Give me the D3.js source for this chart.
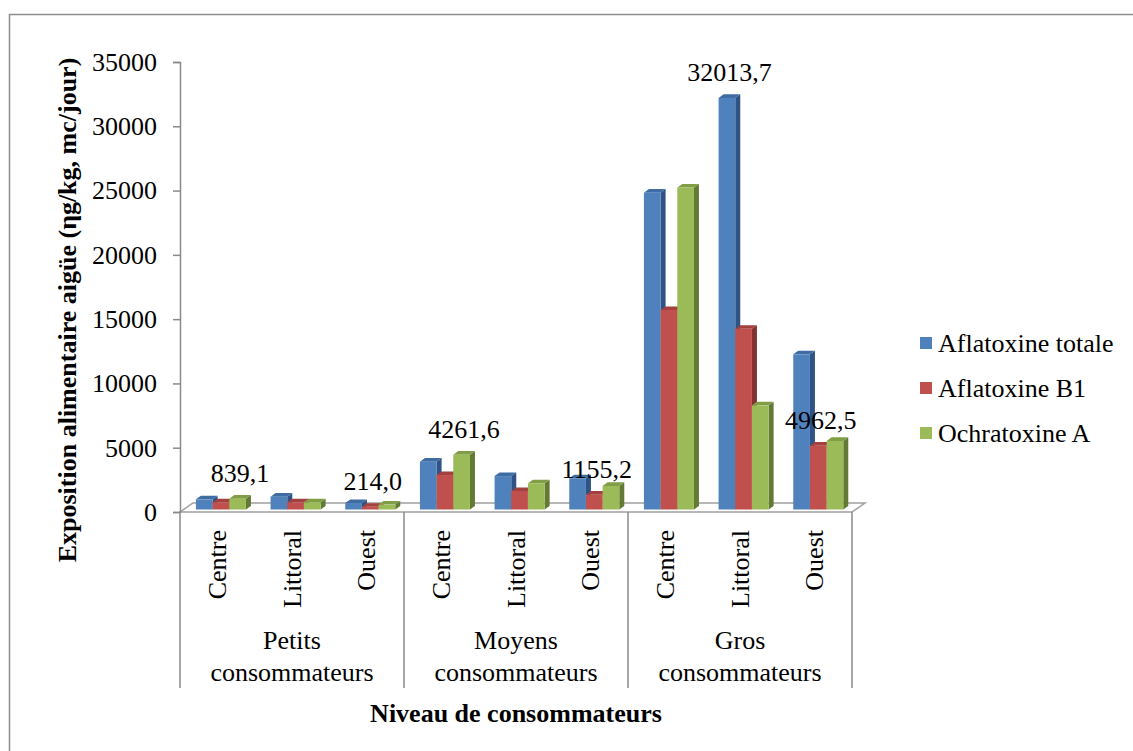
<!DOCTYPE html>
<html>
<head>
<meta charset="utf-8">
<script src="https://cdn.jsdelivr.net/npm/d3@7"></script>
<style>
  html, body { margin: 0; padding: 0; background: #ffffff; }
  svg { display: block; }
  text { font-family: "Liberation Serif", "Times New Roman", serif; fill: #000; }
</style>
</head>
<body>
<svg id="chart" width="1133" height="751"></svg>
<script>
// Consumer levels (outer categories) and regions (inner categories)
const groupLabels = [["Petits", "consommateurs"], ["Moyens", "consommateurs"], ["Gros", "consommateurs"]];
const regions = ["Centre", "Littoral", "Ouest"];
const seriesNames = ["Aflatoxine totale", "Aflatoxine B1", "Ochratoxine A"];

// Acute dietary exposure, one value per group × region
const aflatoxineTotale = [790, 1000, 500, 3720, 2600, 2430, 24640, 32013.7, 12070];
const aflatoxineB1     = [560, 560, 214.0, 2680, 1440, 1155.2, 15515, 14060, 4962.5];
const ochratoxineA     = [839.1, 560, 380, 4261.6, 2040, 1830, 25045, 8100, 5330];

const yTicks = [0, 5000, 10000, 15000, 20000, 25000, 30000, 35000];

// Bars that carry a value label: [category index, series index]
const labelledBars = [[0, 2], [2, 1], [3, 2], [5, 1], [7, 0], [8, 1]];

const seriesValues = [aflatoxineTotale, aflatoxineB1, ochratoxineA];
const frontColors = ["#4F81BD", "#C0504D", "#9BBB59"];
const topColors   = ["#3F6CA3", "#A4403D", "#819E47"];
const sideColors  = ["#2E5384", "#83312F", "#637A34"];

const svg = d3.select("#chart");
const FONT = 26;

// outer frame
svg.append("rect")
  .attr("x", 9.5).attr("y", 14.5).attr("width", 1200).attr("height", 800)
  .attr("fill", "none").attr("stroke", "#8E8E8E").attr("stroke-width", 1.5);

const x0 = 180, x1 = 852, yTop = 62, yBase = 512;
const floorDx = 13, floorDy = -9;      // depth of the floor
const barShiftX = 3.6, barShiftY = -2.5; // bars sit slightly inside the floor
const barDx = 5, barDy = -3.6;          // depth of each bar

const categories = d3.range(groupLabels.length * regions.length);
const xCat = d3.scaleBand().domain(categories).range([x0, x1]).padding(0);
const xSeries = d3.scaleBand().domain(d3.range(seriesNames.length))
  .range([xCat.bandwidth() * 0.165, xCat.bandwidth() * 0.835]).padding(0);
const y = d3.scaleLinear().domain([0, 35000]).range([yBase, yTop]);

// floor
svg.append("polygon")
  .attr("points", [[x0, yBase], [x1, yBase], [x1 + floorDx, yBase + floorDy], [x0 + floorDx, yBase + floorDy]].map(p => p.join(",")).join(" "))
  .attr("fill", "#ffffff").attr("stroke", "#A0A0A0").attr("stroke-width", 1.5);

// value axis
const yAxis = d3.axisLeft(y).tickValues(yTicks).tickSize(7).tickPadding(16).tickFormat(d3.format("d"));
const gy = svg.append("g").attr("transform", `translate(${x0},0)`).call(yAxis);
gy.select(".domain").attr("stroke", "#8A8A8A").attr("stroke-width", 1.5);
gy.selectAll(".tick line").attr("stroke", "#8A8A8A").attr("stroke-width", 1.5);
gy.selectAll(".tick text").attr("font-size", FONT).attr("font-family", "Liberation Serif, Times New Roman, serif");

// bars
const bars = [];
categories.forEach(c => {
  seriesValues.forEach((vals, s) => {
    bars.push({ c, s, v: vals[c] });
  });
});
const w = xSeries.bandwidth();
function barGeom(d) {
  const left = xCat(d.c) + xSeries(d.s) + barShiftX;
  const top = y(d.v) + barShiftY;
  const base = y(0) + barShiftY;
  return { left, top, base };
}
const gBars = svg.append("g");
bars.forEach(d => {
  const { left, top, base } = barGeom(d);
  const g = gBars.append("g");
  g.append("polygon")
    .attr("points", [[left + w, top], [left + w + barDx, top + barDy], [left + w + barDx, base + barDy], [left + w, base]].map(p => p.join(",")).join(" "))
    .attr("fill", sideColors[d.s]);
  g.append("polygon")
    .attr("points", [[left, top], [left + barDx, top + barDy], [left + w + barDx, top + barDy], [left + w, top]].map(p => p.join(",")).join(" "))
    .attr("fill", topColors[d.s]);
  g.append("rect")
    .attr("x", left).attr("y", top).attr("width", w).attr("height", Math.max(0, base - top))
    .attr("fill", frontColors[d.s]);
});

// value labels
const fmt = v => d3.format(".1f")(v).replace(".", ",");
labelledBars.forEach(([c, s]) => {
  const d = { c, s, v: seriesValues[s][c] };
  const { left, top } = barGeom(d);
  svg.append("text")
    .attr("x", left + w / 2 + barDx / 2)
    .attr("y", top - 17)
    .attr("text-anchor", "middle")
    .attr("font-size", FONT)
    .text(fmt(d.v));
});

// category axis: region labels, group separators and group labels
const xAxisBottom = 688;
const groupWidth = (x1 - x0) / groupLabels.length;
d3.range(groupLabels.length + 1).forEach(i => {
  const gx = x0 + i * groupWidth;
  svg.append("line")
    .attr("x1", gx).attr("x2", gx).attr("y1", yBase).attr("y2", xAxisBottom)
    .attr("stroke", "#8A8A8A").attr("stroke-width", 1.5);
});
categories.forEach(c => {
  const cx = xCat(c) + xCat.bandwidth() / 2;
  svg.append("text")
    .attr("transform", `translate(${cx},530) rotate(-90)`)
    .attr("text-anchor", "end")
    .attr("dominant-baseline", "central")
    .attr("font-size", FONT)
    .text(regions[c % regions.length]);
});
groupLabels.forEach((lines, i) => {
  const cx = x0 + (i + 0.5) * groupWidth;
  lines.forEach((t, j) => {
    svg.append("text")
      .attr("x", cx).attr("y", 649 + j * 32)
      .attr("text-anchor", "middle")
      .attr("font-size", FONT)
      .text(t);
  });
});

// axis titles
svg.append("text")
  .attr("x", 516).attr("y", 722)
  .attr("text-anchor", "middle")
  .attr("font-size", FONT).attr("font-weight", "bold")
  .text("Niveau de consommateurs");

svg.append("text")
  .attr("transform", "translate(76,310) rotate(-90)")
  .attr("text-anchor", "middle")
  .attr("font-size", FONT).attr("font-weight", "bold")
  .text("Exposition alimentaire aigüe (ηg/kg, mc/jour)");

// legend
const legend = svg.append("g").attr("transform", "translate(920,343)");
seriesNames.forEach((name, i) => {
  const row = legend.append("g").attr("transform", `translate(0,${i * 45})`);
  row.append("rect").attr("x", 0).attr("y", -6).attr("width", 12).attr("height", 12).attr("fill", frontColors[i]);
  row.append("text").attr("x", 18).attr("y", 0).attr("dy", "0.33em")
    .attr("font-size", FONT).text(name);
});
</script>
</body>
</html>
